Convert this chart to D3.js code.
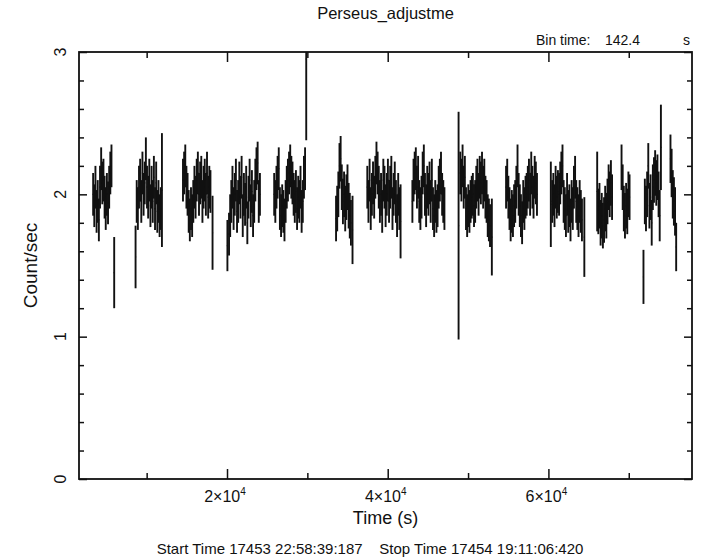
<!DOCTYPE html>
<html>
<head>
<meta charset="utf-8">
<script src="https://cdn.jsdelivr.net/npm/d3@7"></script>
<style>
  body { margin: 0; background: #fff; }
  text { font-family: "Liberation Sans", Arial, Helvetica, sans-serif; fill: #111; }
</style>
</head>
<body>
<script>
//light curve data, bin time 142.4 s
var binTime = 142.4;

//start time (s) of each continuous stretch of bins
var segStart = [3270, 8692, 14450, 20180, 25800, 33500, 37390, 43000, 48960, 54660, 60400, 66140, 69030, 71930, 75120];

//typical error of the bins in each stretch
var segErr = [0.15, 0.15, 0.15, 0.15, 0.15, 0.16, 0.15, 0.15, 0.15, 0.15, 0.15, 0.16, 0.16, 0.16, 0.17];

//count rate of each bin, stretch by stretch
var segRates = [
  [2.0, 1.92, 2.05, 1.88, 1.95, 1.82, 2.05, 2.18, 2.08, 2.1, 1.98, 1.9, 2.0, 1.94, 2.05, 2.15, 2.2],
  [1.95, 1.9, 2.05, 2.1, 1.95, 2.15, 2.0, 2.08, 2.25, 2.05, 1.98, 2.1, 1.92, 2.05, 1.95, 2.12, 1.9, 2.08, 1.88, 1.95, 1.85, 1.9],
  [2.1, 2.15, 2.2, 2.05, 2.0, 1.88, 1.82, 1.9, 1.85, 1.95, 2.05, 1.98, 2.1, 2.15, 2.0, 2.08, 2.12, 1.95, 2.05, 2.1, 2.0, 2.15, 1.98, 2.05, 2.02],
  [1.72, 1.85, 1.95, 2.05, 1.9, 2.0, 2.1, 1.88, 1.95, 2.08, 1.98, 2.12, 1.85, 2.0, 1.93, 2.05, 1.8, 1.98, 2.1, 1.92, 2.02, 1.85, 1.95, 2.1, 2.18, 2.22, 1.95, 2.0],
  [2.0, 1.95, 2.05, 2.12, 2.18, 1.9, 1.85, 1.92, 1.88, 1.82, 1.95, 2.05, 2.1, 2.15, 2.2, 2.12, 2.08, 2.0, 1.95, 2.02, 1.9, 1.98, 1.95, 2.05, 1.88, 1.95, 2.12, 2.18],
  [1.83, 1.9, 2.0, 2.2, 2.25, 2.05, 1.95, 2.0, 1.9, 1.98, 2.05, 1.92, 1.85, 1.8],
  [2.05, 1.95, 2.1, 1.9, 2.0, 2.08, 1.98, 2.12, 2.22, 2.15, 2.05, 1.95, 2.0, 1.88, 2.1, 2.05, 1.92, 2.0, 2.1, 1.95, 2.05, 2.12, 1.9, 2.0, 2.08, 1.95, 1.85, 2.0, 1.9],
  [1.95, 2.1, 2.15, 2.18, 2.05, 2.12, 1.95, 1.9, 1.98, 2.15, 2.2, 2.0, 1.92, 2.05, 2.0, 2.08, 1.95, 2.1, 1.9, 1.85, 1.95, 1.88, 1.92, 2.05, 2.1, 2.15, 2.0, 1.95, 1.9],
  [2.15, 2.1, 2.2, 2.05, 2.12, 1.9, 1.85, 1.92, 1.88, 1.95, 1.98, 2.0, 1.92, 1.95, 2.05, 2.1, 2.0, 2.12, 2.08, 2.15, 2.05, 2.1, 1.98, 1.95, 1.85, 1.82, 1.78],
  [2.05, 2.1, 1.98, 1.9, 1.82, 1.88, 1.85, 1.92, 1.95, 2.05, 2.2, 2.0, 1.92, 1.85, 1.8, 1.95, 1.9, 1.98, 2.0, 2.05, 2.1, 2.0, 2.15, 2.05, 1.98, 2.12, 2.08, 2.0],
  [1.95, 2.0, 1.92, 2.05, 1.98, 2.02, 2.0, 2.08, 2.15, 2.2, 1.95, 1.9, 1.85, 2.0, 1.88, 1.92, 1.82, 1.95, 1.9, 2.05, 2.12, 1.95, 1.9, 1.85, 1.95, 1.88, 1.82],
  [1.88, 1.92, 1.8, 1.85, 1.78, 1.82, 1.9, 1.85, 1.95, 2.05, 2.0, 2.08, 1.98],
  [2.19, 2.05, 1.9, 1.85, 1.92, 1.88, 2.0, 1.98],
  [1.95, 1.9, 2.0, 2.2, 1.92, 1.98, 1.8, 2.05, 2.1, 2.15, 2.08, 2.12, 2.0],
  [2.25, 2.15, 2.0, 1.95, 1.88]
];

//single bins with their own (larger) errors: edges of stretches, spikes
var extraTime = [5960, 8620, 11900, 18200, 20050, 29860, 35620, 41600, 48820, 52960, 60300, 64470, 66070, 71830, 73850, 74000, 75900];
var extraRate = [1.45, 1.56, 2.03, 1.73, 1.64, 2.95, 1.75, 1.81, 1.78, 1.7, 1.93, 1.7, 2.02, 1.42, 1.85, 2.33, 1.63];
var extraErr  = [0.25, 0.22, 0.40, 0.26, 0.18, 0.57, 0.24, 0.26, 0.80, 0.27, 0.30, 0.28, 0.28, 0.19, 0.18, 0.30, 0.17];

//axis ticks
var xMajor = [20000, 40000, 60000];
var xMinor = [10000, 30000, 50000, 70000];
var xLabels = ["2\u00d710", "4\u00d710", "6\u00d710"];
var yMajor = [0, 1, 2, 3];
var yMinor = [0.2, 0.4, 0.6, 0.8, 1.2, 1.4, 1.6, 1.8, 2.2, 2.4, 2.6, 2.8];

window.onload = function(){

	var w = 701, h = 560;
	var left = 79, right = 692, top = 52, bottom = 479;

	var svg = d3.select("body").append("svg")
		.attr("width", w)
		.attr("height", h);

	svg.append("rect").attr("width", w).attr("height", h).style("fill", "#fff");

	var x = d3.scaleLinear().domain([1580, 77870]).range([left, right]);
	var y = d3.scaleLinear().domain([0, 3]).range([bottom, top]);

	//flatten stretches + single bins into one list
	var bins = [];
	segRates.forEach(function(rates, k){
		rates.forEach(function(r, i){
			bins.push({t: segStart[k] + (i + 0.5) * binTime, r: r, e: segErr[k]});
		});
	});
	extraTime.forEach(function(t, i){
		bins.push({t: t, r: extraRate[i], e: extraErr[i]});
	});

	svg.append("clipPath").attr("id", "plotclip")
		.append("rect")
		.attr("x", left).attr("y", top)
		.attr("width", right - left).attr("height", bottom - top);

	var marks = svg.append("g").attr("clip-path", "url(#plotclip)").attr("class", "bins");

	//vertical error bars
	marks.selectAll(".ebar")
		.data(bins)
		.enter()
		.append("line")
		.attr("class", "ebar")
		.attr("x1", function(d){ return x(d.t); })
		.attr("x2", function(d){ return x(d.t); })
		.attr("y1", function(d){ return y(d.r - d.e); })
		.attr("y2", function(d){ return y(d.r + d.e); })
		.style("stroke", "#111")
		.style("stroke-width", 1.9);

	//bin width bars
	marks.selectAll(".wbar")
		.data(bins)
		.enter()
		.append("line")
		.attr("class", "wbar")
		.attr("x1", function(d){ return x(d.t - binTime / 2); })
		.attr("x2", function(d){ return x(d.t + binTime / 2); })
		.attr("y1", function(d){ return y(d.r); })
		.attr("y2", function(d){ return y(d.r); })
		.style("stroke", "#111")
		.style("stroke-width", 1.2);

	//inward ticks on all four sides
	function tickAxis(axis, values, size, transform){
		var g = svg.append("g")
			.attr("transform", transform)
			.call(axis.tickValues(values).tickSize(-size).tickFormat(""));
		g.select(".domain").remove();
		g.selectAll(".tick line").style("stroke", "#111").style("stroke-width", 1.5);
		return g;
	}
	tickAxis(d3.axisBottom(x), xMajor, 10, "translate(0," + bottom + ")");
	tickAxis(d3.axisBottom(x), xMinor, 6, "translate(0," + bottom + ")");
	tickAxis(d3.axisTop(x), xMajor, 10, "translate(0," + top + ")");
	tickAxis(d3.axisTop(x), xMinor, 6, "translate(0," + top + ")");
	tickAxis(d3.axisLeft(y), yMajor, 8, "translate(" + left + ",0)");
	tickAxis(d3.axisLeft(y), yMinor, 5, "translate(" + left + ",0)");
	tickAxis(d3.axisRight(y), yMajor, 8, "translate(" + right + ",0)");
	tickAxis(d3.axisRight(y), yMinor, 5, "translate(" + right + ",0)");

	//frame
	svg.append("rect")
		.attr("x", left).attr("y", top)
		.attr("width", right - left).attr("height", bottom - top)
		.style("fill", "none")
		.style("stroke", "#111")
		.style("stroke-width", 1.8);

	//x tick labels with superscript
	var xl = svg.selectAll(".xlab")
		.data(xMajor)
		.enter()
		.append("text")
		.attr("class", "xlab")
		.attr("x", function(d){ return x(d) - 2; })
		.attr("y", 502)
		.attr("text-anchor", "middle")
		.style("font-size", "16px");
	xl.append("tspan").text(function(d, i){ return xLabels[i]; });
	xl.append("tspan").attr("dy", -7).style("font-size", "10px").text("4");

	//y tick labels, rotated
	svg.selectAll(".ylab")
		.data(yMajor)
		.enter()
		.append("text")
		.attr("class", "ylab")
		.attr("transform", function(d){ return "translate(66," + y(d) + ") rotate(-90)"; })
		.attr("text-anchor", "middle")
		.style("font-size", "16px")
		.text(function(d){ return d; });

	//axis titles
	svg.append("text")
		.attr("x", (left + right) / 2).attr("y", 524)
		.attr("text-anchor", "middle")
		.style("font-size", "18px")
		.text("Time (s)");

	svg.append("text")
		.attr("transform", "translate(37," + (top + bottom) / 2 + ") rotate(-90)")
		.attr("text-anchor", "middle")
		.style("font-size", "19px")
		.text("Count/sec");

	svg.append("text")
		.attr("x", (left + right) / 2).attr("y", 19)
		.attr("text-anchor", "middle")
		.style("font-size", "16.5px")
		.text("Perseus_adjustme");

	svg.append("text")
		.attr("x", 536).attr("y", 45)
		.style("font-size", "14px")
		.text("Bin time:");
	svg.append("text")
		.attr("x", 605).attr("y", 45)
		.style("font-size", "14px")
		.text("142.4");
	svg.append("text")
		.attr("x", 683).attr("y", 45)
		.style("font-size", "14px")
		.text("s");

	svg.append("text")
		.attr("x", 370).attr("y", 554)
		.attr("text-anchor", "middle")
		.style("font-size", "15px")
		.attr("xml:space", "preserve")
		.style("white-space", "pre")
		.text("Start Time 17453 22:58:39:187    Stop Time 17454 19:11:06:420");
};
</script>
</body>
</html>
